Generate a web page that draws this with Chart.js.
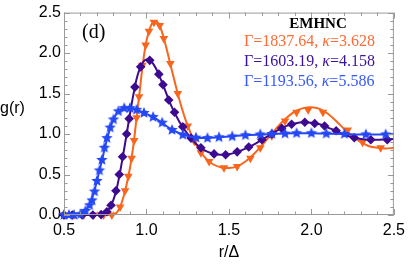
<!DOCTYPE html>
<html>
<head>
<meta charset="utf-8">
<script src="https://cdn.jsdelivr.net/npm/chart.js@4.4.0/dist/chart.umd.min.js"></script>
<style>
  html, body { margin: 0; padding: 0; background: #fff; }
  #wrap { position: relative; width: 411px; height: 265px; }
</style>
</head>
<body>
<div id="wrap"><canvas id="grChart" width="411" height="265"></canvas></div>
<script>
// EMHNC g(r) curves
const orangeLineX = [0.5, 0.6, 0.7, 0.78, 0.8, 0.82, 0.84, 0.86, 0.88, 0.9, 0.92, 0.94, 0.96, 0.98, 1.0, 1.02, 1.04, 1.06, 1.08, 1.1, 1.12, 1.15, 1.2, 1.25, 1.3, 1.35, 1.4, 1.45, 1.5, 1.55, 1.6, 1.65, 1.7, 1.75, 1.8, 1.85, 1.9, 1.95, 2.0, 2.05, 2.1, 2.15, 2.2, 2.25, 2.3, 2.35, 2.4, 2.45, 2.5];
const orangeLineY = [0, 0, 0, 0, 0.005, 0.03, 0.1, 0.22, 0.38, 0.58, 0.85, 1.2, 1.55, 1.9, 2.15, 2.3, 2.38, 2.39, 2.34, 2.22, 2.07, 1.82, 1.42, 1.1, 0.87, 0.72, 0.63, 0.59, 0.58, 0.6, 0.66, 0.75, 0.86, 0.98, 1.1, 1.2, 1.28, 1.32, 1.33, 1.31, 1.25, 1.16, 1.06, 0.97, 0.9, 0.85, 0.83, 0.82, 0.83];

const purpleLineX = [0.5, 0.6, 0.7, 0.74, 0.76, 0.78, 0.8, 0.82, 0.84, 0.86, 0.88, 0.9, 0.92, 0.94, 0.96, 0.98, 1.0, 1.02, 1.04, 1.06, 1.08, 1.1, 1.15, 1.2, 1.25, 1.3, 1.35, 1.4, 1.45, 1.5, 1.55, 1.6, 1.65, 1.7, 1.75, 1.8, 1.85, 1.9, 1.95, 2.0, 2.05, 2.1, 2.15, 2.2, 2.25, 2.3, 2.35, 2.4, 2.45, 2.5];
const purpleLineY = [0, 0, 0, 0.01, 0.04, 0.1, 0.19, 0.33, 0.53, 0.76, 1.0, 1.25, 1.48, 1.68, 1.81, 1.89, 1.92, 1.91, 1.87, 1.8, 1.71, 1.61, 1.35, 1.15, 1.0, 0.88, 0.8, 0.76, 0.745, 0.75, 0.78, 0.82, 0.87, 0.93, 0.99, 1.05, 1.1, 1.13, 1.145, 1.14, 1.12, 1.08, 1.04, 0.99, 0.96, 0.94, 0.93, 0.93, 0.935, 0.94];

const blueLineX = [0.5, 0.55, 0.6, 0.62, 0.64, 0.66, 0.68, 0.7, 0.72, 0.74, 0.76, 0.78, 0.8, 0.82, 0.84, 0.86, 0.88, 0.9, 0.92, 0.95, 1.0, 1.05, 1.1, 1.15, 1.2, 1.25, 1.3, 1.35, 1.4, 1.45, 1.5, 1.6, 1.7, 1.8, 1.9, 2.0, 2.1, 2.2, 2.3, 2.4, 2.5];
const blueLineY = [0, 0, 0.01, 0.03, 0.08, 0.15, 0.27, 0.42, 0.59, 0.76, 0.93, 1.07, 1.18, 1.26, 1.3, 1.32, 1.325, 1.32, 1.31, 1.29, 1.25, 1.2, 1.13, 1.06, 1.01, 0.975, 0.955, 0.95, 0.955, 0.96, 0.97, 0.985, 0.995, 1.005, 1.01, 1.01, 1.005, 1.0, 0.995, 0.995, 1.0];

// simulation points (markers)
const orangeDotX = [0.5, 0.56, 0.62, 0.68, 0.74, 0.79, 0.84, 0.87, 0.89, 0.91, 0.925, 0.94, 0.955, 0.975, 0.995, 1.015, 1.045, 1.08, 1.105, 1.145, 1.19, 1.25, 1.29, 1.33, 1.38, 1.47, 1.55, 1.63, 1.69, 1.76, 1.84, 1.91, 1.98, 2.07, 2.22, 2.31, 2.42];
const orangeDotY = [0, 0, 0, 0, 0, 0, 0.1, 0.3, 0.48, 0.7, 0.92, 1.2, 1.46, 1.85, 2.1, 2.27, 2.38, 2.34, 2.18, 1.87, 1.5, 1.1, 0.91, 0.77, 0.66, 0.585, 0.6, 0.7, 0.83, 0.98, 1.16, 1.27, 1.3, 1.27, 1.05, 0.9, 0.83];

const purpleDotX = [0.5, 0.55, 0.61, 0.675, 0.725, 0.76, 0.785, 0.815, 0.835, 0.855, 0.88, 0.895, 0.93, 0.965, 1.02, 1.075, 1.1, 1.135, 1.17, 1.22, 1.27, 1.33, 1.41, 1.48, 1.55, 1.62, 1.7, 1.76, 1.82, 1.88, 1.96, 2.02, 2.08, 2.15, 2.26, 2.36, 2.46];
const purpleDotY = [0, 0, 0, 0, 0.005, 0.04, 0.12, 0.3, 0.5, 0.72, 1.0, 1.19, 1.58, 1.83, 1.91, 1.74, 1.61, 1.42, 1.27, 1.09, 0.95, 0.83, 0.755, 0.745, 0.78, 0.84, 0.93, 1.0, 1.07, 1.12, 1.145, 1.13, 1.1, 1.04, 0.955, 0.93, 0.93];

const blueDotX = [0.5, 0.53, 0.56, 0.6, 0.63, 0.655, 0.67, 0.685, 0.7, 0.715, 0.73, 0.745, 0.76, 0.78, 0.8, 0.83, 0.865, 0.9, 0.94, 0.985, 1.04, 1.095, 1.155, 1.22, 1.3, 1.37, 1.44, 1.52, 1.6, 1.69, 1.76, 1.84, 1.91, 2.0, 2.09, 2.2, 2.33, 2.45];
const blueDotY = [0, 0, 0, 0.01, 0.05, 0.12, 0.18, 0.29, 0.42, 0.55, 0.68, 0.83, 0.95, 1.08, 1.18, 1.28, 1.32, 1.32, 1.3, 1.26, 1.21, 1.14, 1.05, 0.99, 0.955, 0.95, 0.96, 0.97, 0.985, 0.995, 1.0, 1.005, 1.01, 1.01, 1.005, 1.0, 0.995, 0.995];

const xTicks = [0.5, 1.0, 1.5, 2.0, 2.5];
const yTicks = [0.0, 0.5, 1.0, 1.5, 2.0, 2.5];

const ORANGE = '#f7661c';
const PURPLE = '#3d0b8f';
const BLUE = '#2548f5';

function pts(xs, ys) {
    return xs.map((x, i) => ({ x: x, y: ys[i] }));
}

function makeStar(color, r) {
    const c = document.createElement('canvas');
    const s = Math.ceil(r * 2) + 2;
    c.width = s; c.height = s;
    const g = c.getContext('2d');
    g.fillStyle = color;
    g.beginPath();
    for (let i = 0; i < 10; i++) {
        const rad = i % 2 ? r * 0.45 : r;
        const a = -Math.PI / 2 + i * Math.PI / 5;
        const px = s / 2 + rad * Math.cos(a), py = s / 2 + rad * Math.sin(a);
        if (i) g.lineTo(px, py); else g.moveTo(px, py);
    }
    g.closePath();
    g.fill();
    return c;
}

function lineSet(xs, ys, color) {
    return {
        data: pts(xs, ys), borderColor: color, borderWidth: 2, pointRadius: 0,
        cubicInterpolationMode: 'monotone', fill: false, clip: false
    };
}
function dotSet(xs, ys, color, style, radius, rotation) {
    return {
        data: pts(xs, ys), showLine: false, pointStyle: style, pointRadius: radius,
        pointRotation: rotation || 0, backgroundColor: color, borderColor: color,
        pointBorderWidth: 0, clip: false
    };
}

// frame, inward ticks, titles and the annotation text
const decor = {
    id: 'decor',
    afterDraw(chart) {
        const ctx = chart.ctx;
        const a = chart.chartArea;
        const xs = chart.scales.x, ys = chart.scales.y;
        ctx.save();
        ctx.strokeStyle = '#9a9a9a';
        ctx.lineWidth = 1;
        ctx.strokeRect(a.left + 0.5, a.top + 0.5, a.right - a.left - 1, a.bottom - a.top - 1);
        ctx.beginPath();
        for (let k = 5; k <= 25; k++) {
            const v = k / 10;
            const p = Math.round(xs.getPixelForValue(v)) + 0.5;
            const len = k % 5 === 0 ? 6 : 3.5;
            ctx.moveTo(p, a.bottom); ctx.lineTo(p, a.bottom - len);
            ctx.moveTo(p, a.top); ctx.lineTo(p, a.top + len);
        }
        for (let k = 0; k <= 25; k++) {
            const v = k / 10;
            const p = Math.round(ys.getPixelForValue(v)) + 0.5;
            const len = k % 5 === 0 ? 6 : 3.5;
            ctx.moveTo(a.left, p); ctx.lineTo(a.left + len, p);
            ctx.moveTo(a.right, p); ctx.lineTo(a.right - len, p);
        }
        ctx.stroke();

        ctx.fillStyle = '#000';
        ctx.font = '16px "Liberation Sans", Arial, sans-serif';
        ctx.textBaseline = 'alphabetic';
        ctx.textAlign = 'left';
        ctx.fillText('g(r)', 0, 113);
        ctx.textAlign = 'center';
        ctx.fillText('r/Δ', (a.left + a.right) / 2, 257);

        ctx.textAlign = 'left';
        ctx.font = '20px "Liberation Serif", "Times New Roman", serif';
        ctx.fillText('(d)', 82, 38);

        ctx.textAlign = 'center';
        ctx.font = 'bold 15px "Liberation Serif", "Times New Roman", serif';
        ctx.fillText('EMHNC', 318, 28);

        const rows = [
            ['1837.64', '3.628', '#ff6a35', 46],
            ['1603.19', '4.158', '#3a12a0', 66],
            ['1193.56', '5.586', '#3558ff', 86]
        ];
        ctx.textAlign = 'left';
        rows.forEach(r => {
            let x = 244;
            const parts = [['Γ=' + r[0] + ', ', false], ['κ', true], ['=' + r[1], false]];
            ctx.fillStyle = r[2];
            parts.forEach(p => {
                ctx.font = (p[1] ? 'italic ' : '') + '16px "Liberation Serif", "Times New Roman", serif';
                ctx.fillText(p[0], x, r[3]);
                x += ctx.measureText(p[0]).width;
            });
        });
        ctx.restore();
    }
};

const ctxG = document.getElementById('grChart');
const starImg = makeStar(BLUE, 6);

new Chart(ctxG, {
    type: 'line',
    data: {
        datasets: [
            dotSet(blueDotX, blueDotY, BLUE, starImg, 6),
            lineSet(blueLineX, blueLineY, BLUE),
            dotSet(purpleDotX, purpleDotY, PURPLE, 'rectRot', 4.8),
            lineSet(purpleLineX, purpleLineY, PURPLE),
            dotSet(orangeDotX, orangeDotY, ORANGE, 'triangle', 5, 180),
            lineSet(orangeLineX, orangeLineY, ORANGE)
        ]
    },
    options: {
        responsive: false,
        animation: false,
        layout: { padding: { left: 0, right: 12, top: 9, bottom: 0 } },
        scales: {
            x: {
                type: 'linear', min: 0.5, max: 2.5,
                afterBuildTicks: s => { s.ticks = xTicks.map(v => ({ value: v })); },
                afterFit: s => { s.height = 50; },
                grid: { display: false, drawTicks: false },
                border: { display: false },
                ticks: {
                    padding: 6, color: '#000', maxRotation: 0,
                    font: { family: '"Liberation Sans", Arial, sans-serif', size: 16 },
                    callback: v => v.toFixed(1)
                }
            },
            y: {
                type: 'linear', min: 0, max: 2.5,
                afterBuildTicks: s => { s.ticks = yTicks.map(v => ({ value: v })); },
                afterFit: s => { s.width = 64; },
                grid: { display: false, drawTicks: false },
                border: { display: false },
                ticks: {
                    padding: 3, color: '#000',
                    font: { family: '"Liberation Sans", Arial, sans-serif', size: 16 },
                    callback: v => v.toFixed(1)
                }
            }
        },
        plugins: {
            legend: { display: false },
            tooltip: { enabled: false }
        }
    },
    plugins: [decor]
});
</script>
</body>
</html>
